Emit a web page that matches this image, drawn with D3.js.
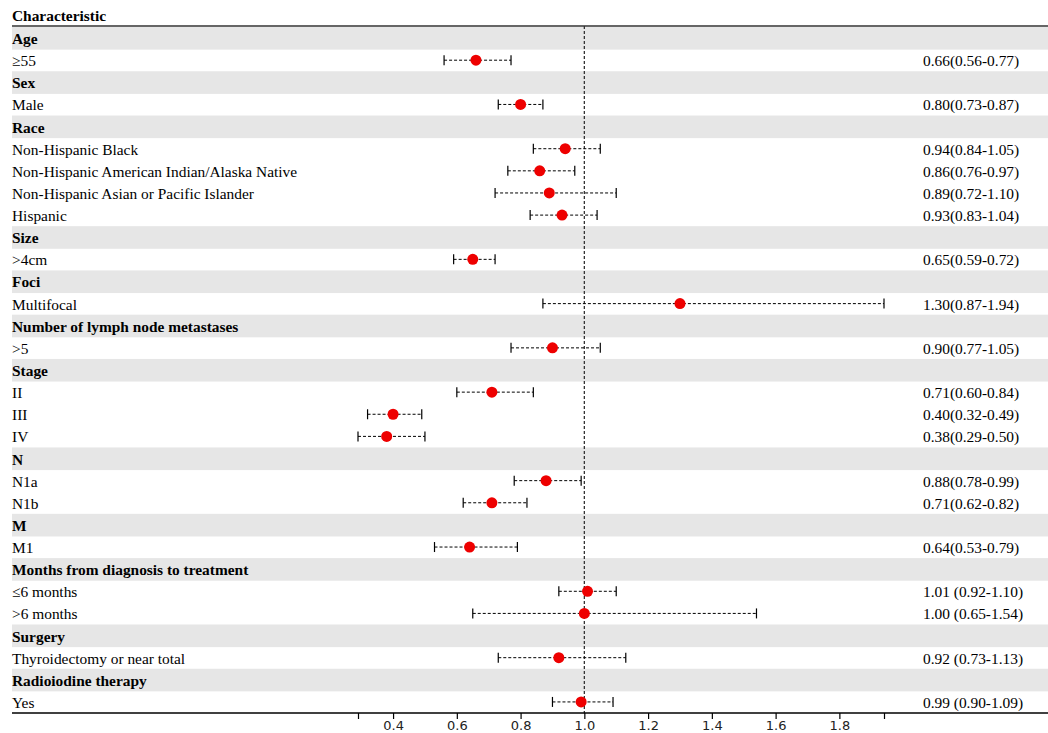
<!DOCTYPE html>
<html>
<head>
<meta charset="utf-8">
<script src="https://cdn.jsdelivr.net/npm/d3@7"></script>
<style>
  body { margin: 0; background: #fff; }
  svg { display: block; }
  .lab { font-family: "Liberation Serif", "Times New Roman", serif; font-size: 15.4px; fill: #000; }
  .head { font-weight: bold; }
  .tick text { font-family: "DejaVu Sans", sans-serif; font-size: 13px; fill: #222; }
</style>
</head>
<body>
<div id="chart"></div>
<script>
// rows of the table, top to bottom (header rows have no estimate)
const rowLabels = ["Age", "≥55", "Sex", "Male", "Race", "Non-Hispanic Black",
  "Non-Hispanic American Indian/Alaska Native", "Non-Hispanic Asian or Pacific Islander", "Hispanic",
  "Size", ">4cm", "Foci", "Multifocal", "Number of lymph node metastases", ">5",
  "Stage", "II", "III", "IV", "N", "N1a", "N1b", "M", "M1",
  "Months from diagnosis to treatment", "≤6 months", ">6 months",
  "Surgery", "Thyroidectomy or near total", "Radioiodine therapy", "Yes"];
const isHeader = [1,0,1,0,1,0,0,0,0,1,0,1,0,1,0,1,0,0,0,1,0,0,1,0,1,0,0,1,0,1,0];
const hr    = [null,0.66,null,0.80,null,0.94,0.86,0.89,0.93,null,0.65,null,1.30,null,0.90,null,0.71,0.40,0.38,null,0.88,0.71,null,0.64,null,1.01,1.00,null,0.92,null,0.99];
const lower = [null,0.56,null,0.73,null,0.84,0.76,0.72,0.83,null,0.59,null,0.87,null,0.77,null,0.60,0.32,0.29,null,0.78,0.62,null,0.53,null,0.92,0.65,null,0.73,null,0.90];
const upper = [null,0.77,null,0.87,null,1.05,0.97,1.10,1.04,null,0.72,null,1.94,null,1.05,null,0.84,0.49,0.50,null,0.99,0.82,null,0.79,null,1.10,1.54,null,1.13,null,1.09];
const ciLabels = ["","0.66(0.56-0.77)","","0.80(0.73-0.87)","","0.94(0.84-1.05)","0.86(0.76-0.97)",
  "0.89(0.72-1.10)","0.93(0.83-1.04)","","0.65(0.59-0.72)","","1.30(0.87-1.94)","","0.90(0.77-1.05)",
  "","0.71(0.60-0.84)","0.40(0.32-0.49)","0.38(0.29-0.50)","","0.88(0.78-0.99)","0.71(0.62-0.82)",
  "","0.64(0.53-0.79)","","1.01 (0.92-1.10)","1.00 (0.65-1.54)","","0.92 (0.73-1.13)","","0.99 (0.90-1.09)"];
const xTicks = [0.29, 0.4, 0.6, 0.8, 1.0, 1.2, 1.4, 1.6, 1.8, 1.94];
const labelledTicks = [0.4, 0.6, 0.8, 1.0, 1.2, 1.4, 1.6, 1.8];

const width = 1048, height = 733;
const tableTop = 27, tableBottom = 713, left = 12;

const svg = d3.select("#chart").append("svg")
  .attr("width", width).attr("height", height);

const x = d3.scaleLinear().domain([0.29, 1.94]).range([358, 884]);
const y = d3.scaleBand().domain(d3.range(rowLabels.length)).range([tableTop, tableBottom]);

// grey bands behind the group header rows
svg.selectAll("rect.band")
  .data(d3.range(rowLabels.length).filter(i => isHeader[i]))
  .enter().append("rect")
  .attr("x", left).attr("width", width - left)
  .attr("y", i => y(i)).attr("height", y.bandwidth() + 0.5)
  .attr("fill", "#e6e6e6");

// column header
svg.append("text").attr("class", "lab head")
  .attr("x", left).attr("y", 21).text("Characteristic");
svg.append("line")
  .attr("x1", left).attr("x2", width).attr("y1", 26).attr("y2", 26)
  .attr("stroke", "#333").attr("stroke-width", 1.6);

// row labels
svg.selectAll("text.row")
  .data(rowLabels)
  .enter().append("text")
  .attr("class", (d, i) => isHeader[i] ? "lab head" : "lab")
  .attr("x", left)
  .attr("y", (d, i) => y(i) + y.bandwidth() / 2 + 6)
  .text(d => d);

// HR (95% CI) column
svg.selectAll("text.ci")
  .data(ciLabels)
  .enter().append("text")
  .attr("class", "lab")
  .attr("x", 923)
  .attr("y", (d, i) => y(i) + y.bandwidth() / 2 + 6)
  .text(d => d);

// reference line at 1
svg.append("line")
  .attr("x1", x(1)).attr("x2", x(1))
  .attr("y1", 26).attr("y2", tableBottom)
  .attr("stroke", "#333").attr("stroke-width", 1.3)
  .attr("stroke-dasharray", "3,2");

const est = d3.range(rowLabels.length).filter(i => hr[i] != null);
const cy = i => y(i) + y.bandwidth() / 2;

// CI whiskers
svg.selectAll("line.ci")
  .data(est).enter().append("line")
  .attr("x1", i => x(lower[i])).attr("x2", i => x(upper[i]))
  .attr("y1", cy).attr("y2", cy)
  .attr("stroke", "#000").attr("stroke-width", 1)
  .attr("stroke-dasharray", "3,2");

[lower, upper].forEach(arr => {
  svg.selectAll(null)
    .data(est).enter().append("line")
    .attr("x1", i => x(arr[i])).attr("x2", i => x(arr[i]))
    .attr("y1", i => cy(i) - 5).attr("y2", i => cy(i) + 5)
    .attr("stroke", "#000").attr("stroke-width", 1.2);
});

// point estimates
svg.selectAll("circle")
  .data(est).enter().append("circle")
  .attr("cx", i => x(hr[i])).attr("cy", cy)
  .attr("r", 5.5)
  .attr("fill", "#ee0000");

// bottom axis
svg.append("line")
  .attr("x1", left).attr("x2", width).attr("y1", tableBottom).attr("y2", tableBottom)
  .attr("stroke", "#000").attr("stroke-width", 1.3);

const axis = svg.append("g")
  .attr("transform", `translate(0,${tableBottom})`)
  .call(d3.axisBottom(x).tickValues(xTicks).tickSize(6).tickPadding(2)
    .tickFormat(d => labelledTicks.includes(d) ? d3.format(".1f")(d) : ""));
axis.select(".domain").remove();
axis.selectAll(".tick line").attr("stroke", "#000").attr("stroke-width", 1.2);
</script>
</body>
</html>
